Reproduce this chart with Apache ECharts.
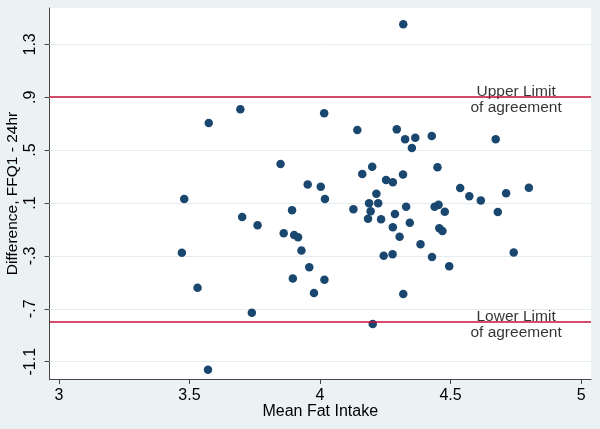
<!DOCTYPE html>
<html>
<head>
<meta charset="utf-8">
<script src="https://cdn.jsdelivr.net/npm/echarts@6/dist/echarts.min.js"></script>
<style>
  html, body { margin: 0; padding: 0; background: #eaf2f3; }
  #chart { width: 600px; height: 429px; }
</style>
</head>
<body>
<div id="chart"></div>
<script>
// mean fat intake (x) and difference FFQ1 - 24hr (y)
var meanFat = [4.319, 3.695, 4.016, 3.574, 4.143, 4.294, 4.365, 4.428, 4.326, 4.673,
  4.352, 3.849, 4.450, 4.200, 4.162, 4.318, 4.253, 4.279, 3.953, 4.003,
  4.019, 4.216, 4.537, 4.572, 4.616, 4.713, 4.800, 3.480, 3.893, 4.128,
  4.188, 4.223, 4.194, 4.330, 4.439, 4.454, 4.478, 4.681, 4.287, 4.184,
  4.234, 4.344, 4.279, 4.457, 4.469, 4.305, 4.385, 3.702, 3.761, 3.861,
  3.901, 3.916, 3.929, 3.471, 4.244, 4.278, 4.429, 4.742, 3.959, 4.495,
  3.531, 3.896, 4.017, 3.977, 4.319, 3.739, 4.202, 3.571];
var diff = [1.452, 0.809, 0.779, 0.705, 0.652, 0.657, 0.594, 0.607, 0.582, 0.582,
  0.516, 0.395, 0.370, 0.375, 0.319, 0.316, 0.274, 0.257, 0.240, 0.223,
  0.130, 0.170, 0.213, 0.151, 0.120, 0.173, 0.216, 0.130, 0.045, 0.052,
  0.098, 0.098, 0.038, 0.072, 0.072, 0.086, 0.034, 0.032, 0.017, -0.019,
  -0.023, -0.049, -0.084, -0.091, -0.112, -0.155, -0.212, -0.006, -0.069, -0.128,
  -0.141, -0.159, -0.259, -0.276, -0.299, -0.288, -0.308, -0.274, -0.386, -0.379,
  -0.541, -0.471, -0.481, -0.581, -0.588, -0.730, -0.815, -1.161];

var xTicks = [3, 3.5, 4, 4.5, 5];
var yTicks = [-1.1, -0.7, -0.3, 0.1, 0.5, 0.9, 1.3];

var upperLimit = 0.898;
var lowerLimit = -0.80;
var limitLabelX = 4.751;
var limitNames = ['Upper Limit\nof agreement', 'Lower Limit\nof agreement'];

var font = '"Liberation Sans", Arial, Helvetica, sans-serif';

var points = meanFat.map(function (m, i) { return [m, diff[i]]; });

function fmtY(v) {
  var s = (+v).toFixed(1);
  return s.replace(/^(-?)0\./, '$1.');
}

var chart = echarts.init(document.getElementById('chart'));
var option = {
  backgroundColor: '#eaf2f3',
  animation: false,
  textStyle: { fontFamily: font },
  grid: {
    left: 49.5, right: 9, top: 8, bottom: 50,
    containLabel: false,
    outerBoundsMode: 'none',
    show: true, backgroundColor: '#ffffff', borderWidth: 0
  },
  xAxis: {
    type: 'value',
    min: 2.964, max: 5.038,
    name: 'Mean Fat Intake',
    nameLocation: 'middle',
    nameGap: 25,
    nameMoveOverlap: false,
    nameTextStyle: { fontSize: 16, color: '#000', fontFamily: font },
    axisLine: { show: true, onZero: false, lineStyle: { color: '#444', width: 1 } },
    axisTick: { show: true, length: 5, customValues: xTicks, lineStyle: { color: '#444' } },
    axisLabel: { customValues: xTicks, fontSize: 16, color: '#000', margin: 9, fontFamily: font,
      formatter: function (v) { return String(v); } },
    splitLine: { show: false }
  },
  yAxis: {
    type: 'value',
    min: -1.231, max: 1.575,
    name: 'Difference, FFQ1 - 24hr',
    nameLocation: 'middle',
    nameRotate: 90,
    nameGap: 29,
    nameMoveOverlap: false,
    nameTextStyle: { fontSize: 15.5, color: '#000', fontFamily: font },
    axisLine: { show: true, onZero: false, lineStyle: { color: '#444', width: 1 } },
    axisTick: { show: true, length: 5, customValues: yTicks, lineStyle: { color: '#444' } },
    axisLabel: { customValues: yTicks, fontSize: 16, color: '#000', rotate: 90, margin: 11,
      fontFamily: font, formatter: fmtY },
    splitLine: { show: false }
  },
  series: [
    {
      type: 'scatter',
      data: points,
      symbol: 'circle',
      symbolSize: 8.5,
      itemStyle: { color: '#1a476f', opacity: 1 },
      markLine: {
        silent: true,
        symbol: 'none',
        label: { show: false },
        lineStyle: { color: '#e3ecef', width: 1, type: 'solid' },
        data: yTicks.map(function (t) { return { yAxis: t }; }),
        z: 1
      },
      z: 3
    },
    {
      type: 'line',
      data: [],
      markLine: {
        silent: true,
        symbol: 'none',
        label: { show: false },
        lineStyle: { color: '#c8103a', width: 1.6, type: 'solid' },
        data: [{ yAxis: upperLimit }, { yAxis: lowerLimit }]
      },
      z: 2
    },
    {
      type: 'scatter',
      symbolSize: 0,
      silent: true,
      data: [[limitLabelX, upperLimit], [limitLabelX, lowerLimit]],
      label: {
        show: true,
        position: 'inside',
        align: 'center',
        verticalAlign: 'middle',
        offset: [0, 2.5],
        fontSize: 15.5,
        lineHeight: 16,
        color: '#000',
        fontFamily: font,
        formatter: function (p) { return limitNames[p.dataIndex]; }
      },
      z: 4
    }
  ]
};
// 使用刚指定的配置项和数据显示图表。
chart.setOption(option);
</script>
</body>
</html>
